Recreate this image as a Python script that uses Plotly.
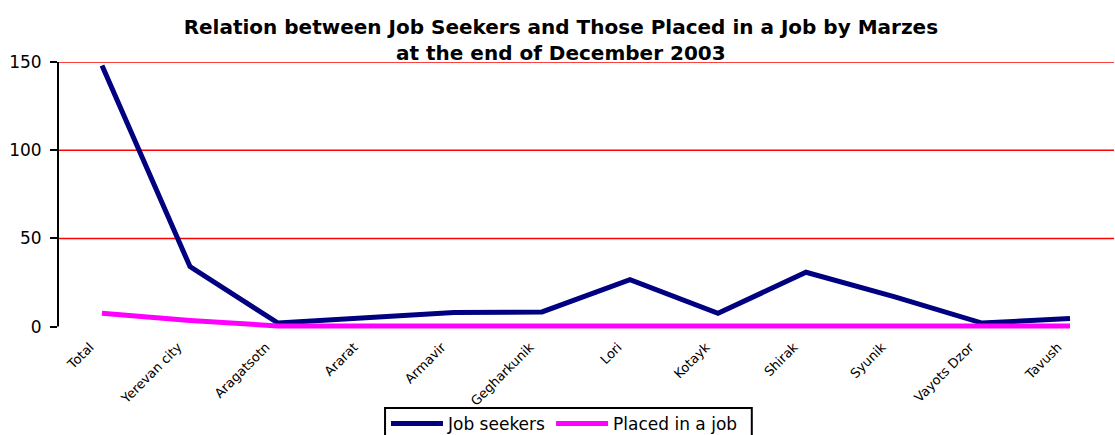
import plotly.graph_objects as go

# Registered job seekers and those placed in a job, by marz (December 2003)
marzes = ["Total", "Yerevan city", "Aragatsotn", "Ararat", "Armavir", "Gegharkunik",
          "Lori", "Kotayk", "Shirak", "Syunik", "Vayots Dzor", "Tavush"]
job_seekers = [148, 34, 2, 5, 8, 8.3, 26.6, 7.5, 30.8, 17, 2, 4.6]
placed = [7.5, 3.4, 0.4, 0.4, 0.4, 0.5, 0.5, 0.8, 0.5, 0.4, 0.4, 0.4]

y_ticks = [0, 50, 100, 150]

fig = go.Figure()
fig.add_trace(go.Scatter(x=marzes, y=job_seekers, mode="lines", name="Job seekers",
                         line=dict(color="#000080", width=5)))
fig.add_trace(go.Scatter(x=marzes, y=placed, mode="lines", name="Placed in a job",
                         line=dict(color="#FF00FF", width=5)))

# red horizontal gridlines (none on the zero line)
for v in y_ticks[1:]:
    fig.add_shape(type="line", xref="paper", yref="y", x0=0, x1=1, y0=v, y1=v,
                  line=dict(color="red", width=1.5), layer="below")

# vertical axis line from 0 to 150
fig.add_shape(type="line", xref="paper", yref="y", x0=0, x1=0, y0=0, y1=150,
              line=dict(color="black", width=2))

# frame around the legend, running off the bottom edge of the page
fig.add_shape(type="rect", xref="paper", yref="paper", x0=0.3097, x1=0.657,
              y0=-0.405, y1=-0.2862, line=dict(color="black", width=2))

fig.update_layout(
    width=1115, height=435,
    margin=dict(l=58, r=1, t=62, b=104, autoexpand=False),
    paper_bgcolor="white", plot_bgcolor="white",
    title=dict(text="Relation between Job Seekers and Those Placed in a Job by Marzes<br>at the end of December 2003",
               x=0.503, xanchor="center", y=0.922, yanchor="top",
               font=dict(family="DejaVu Sans", size=20, color="black", weight="bold")),
    font=dict(family="DejaVu Sans", color="black"),
    xaxis=dict(type="category", range=[-0.5, 11.5], showgrid=False, showline=False,
               zeroline=False, tickangle=-45, tickfont=dict(size=13), ticks="",
               ticklabelstandoff=5, ticklabelshift=-12, automargin=False),
    yaxis=dict(range=[-2.5, 150], tickvals=y_ticks, showgrid=False,
               zeroline=False, showline=False, ticks="outside",
               ticklen=7, tickwidth=2, tickcolor="black", tickfont=dict(size=17),
               ticklabelstandoff=5, automargin=False),
    legend=dict(orientation="h", x=0.3106, xanchor="left", y=-0.279, yanchor="top",
                borderwidth=0, font=dict(size=17),
                itemwidth=52, bgcolor="rgba(0,0,0,0)"),
)

fig.write_html("out.html")
